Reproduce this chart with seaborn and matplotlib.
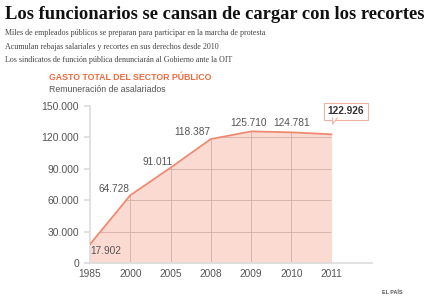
import numpy as np
import pandas as pd
import matplotlib
matplotlib.use("Agg")
import matplotlib.pyplot as plt
import seaborn as sns
from matplotlib.patches import Polygon

# Datos
years = ["1985", "2000", "2005", "2008", "2009", "2010", "2011"]
values = [17902, 64728, 91011, 118387, 125710, 124781, 122926]
labels = ["17.902", "64.728", "91.011", "118.387", "125.710", "124.781", "122.926"]
yticks = [0, 30000, 60000, 90000, 120000, 150000]
ytick_labels = ["0", "30.000", "60.000", "90.000", "120.000", "150.000"]

sns.set_theme(style="white")
plt.rcParams['font.family'] = ['Liberation Sans', 'DejaVu Sans']

LINE = "#ee8a72"
FILL = "#fbdad2"
GRIDC = "#d4aea6"
GREY = "#555555"

df = pd.DataFrame({"x": np.arange(len(years)), "valor": values})

fig = plt.figure(figsize=(4.39, 3.01), dpi=100)
ax = fig.add_axes([0.205, 0.126, 0.642, 0.522])

# area + linea
poly = ax.fill_between(df["x"], 0, df["valor"], color=FILL, lw=0, zorder=1)
sns.lineplot(data=df, x="x", y="valor", ax=ax, color=LINE, lw=1.3, zorder=3)

# rejilla solo dentro del area
path = poly.get_paths()[0]
for xi in df["x"][1:]:
    ln = ax.axvline(xi, color=GRIDC, lw=0.6, zorder=2)
    ln.set_clip_path(path, poly.get_transform())
for yv in yticks[1:]:
    ln = ax.axhline(yv, color=GRIDC, lw=0.6, zorder=2)
    ln.set_clip_path(path, poly.get_transform())

ax.set_xlim(0, 7)
ax.set_ylim(0, 150000)
ax.set_xticks(df["x"])
ax.set_xticklabels(years, fontsize=7.3, color=GREY)
ax.set_yticks(yticks)
ax.set_yticklabels(ytick_labels, fontsize=7.5, color=GREY)
ax.set_xlabel("")
ax.set_ylabel("")
for s in ["top", "right"]:
    ax.spines[s].set_visible(False)
ax.spines["left"].set_color("#dddddd")
ax.spines["bottom"].set_color("#dddddd")
ax.tick_params(axis="y", length=4, color="#dddddd", pad=4, left=True)
ax.tick_params(axis="x", length=0, pad=4)

# etiquetas de valores (desplazamiento en puntos)
offsets = [(11, -5), (-11.5, 4.5), (-9.5, 4), (-13, 5), (-1.5, 6), (0, 6.5)]
for i, (dx, dy) in enumerate(offsets):
    ax.annotate(labels[i], (df["x"][i], values[i]), xytext=(dx, dy),
                textcoords="offset points", ha="center", va="center",
                fontsize=7.3, color=GREY)

# caja del ultimo valor
ax.annotate(labels[-1], (df["x"][6], values[6]), xytext=(10.5, 16.5),
            textcoords="offset points", ha="center", va="center",
            fontsize=7.3, fontweight="bold", color="#333333",
            bbox=dict(boxstyle="square,pad=0.35", fc="white", ec="#efb3a5", lw=0.8),
            annotation_clip=False, zorder=5)
fig.canvas.draw()
tx, ty = ax.transData.transform((df["x"][6], values[6]))
tri = Polygon([(tx + 1, ty + 16.8), (tx + 1, ty + 10), (tx + 6, ty + 16.8)], closed=False,
              fc="white", ec="#efb3a5", lw=0.8, transform=None, clip_on=False, zorder=6)
fig.patches.append(tri)

# textos
fig.text(0.012, 0.953, "Los funcionarios se cansan de cargar con los recortes",
         family="Liberation Serif", fontweight="bold", fontsize=13.3, color="#111111", va="center")
subs = ["Miles de empleados públicos se preparan para participar en la marcha de protesta",
        "Acumulan rebajas salariales y recortes en sus derechos desde 2010",
        "Los sindicatos de función pública denunciarán al Gobierno ante la OIT"]
for k, s in enumerate(subs):
    fig.text(0.012, 0.890 - k * 0.045, s, family="Liberation Serif", fontsize=5.8,
             color="#444444", va="center")
fig.text(0.112, 0.744, "GASTO TOTAL DEL SECTOR PÚBLICO", fontsize=6.3, fontweight="bold",
         color="#ee6a3c", va="center")
fig.text(0.112, 0.701, "Remuneración de asalariados", fontsize=6.3, color=GREY, va="center")
fig.text(0.87, 0.03, "EL PAÍS", fontsize=3.9, fontweight="bold", color="#555555", va="center")

fig.savefig("out.png", dpi=100)
